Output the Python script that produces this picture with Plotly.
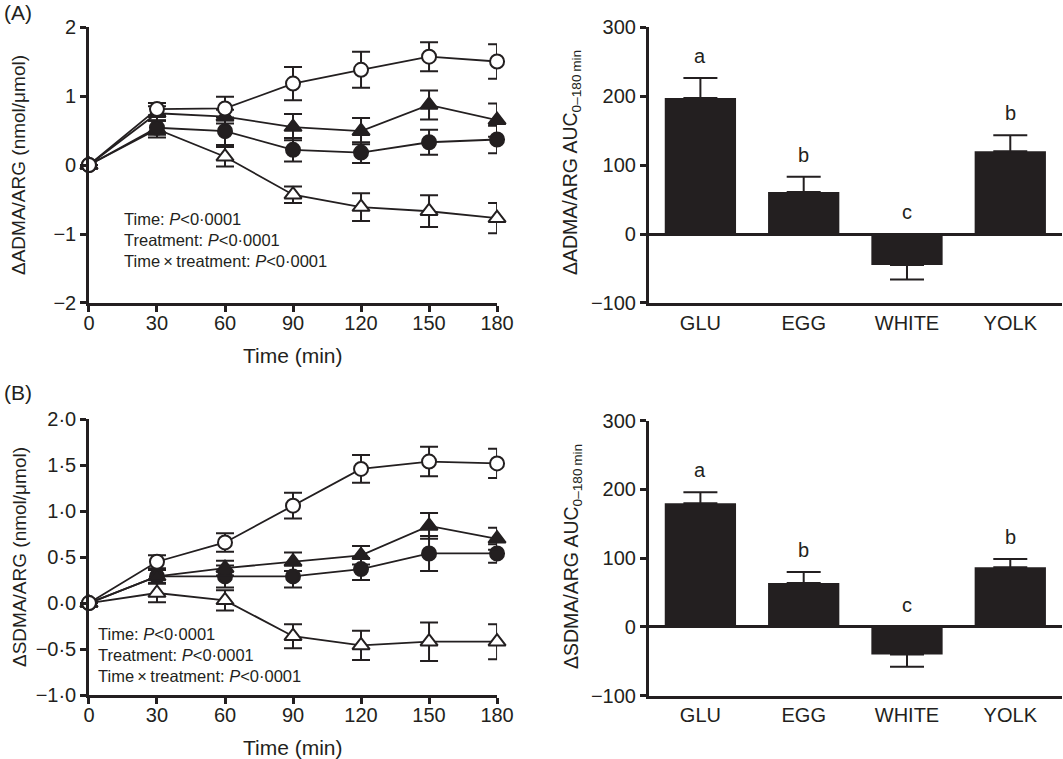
import plotly.graph_objects as go

time = [0, 30, 60, 90, 120, 150, 180]
groups = ["GLU", "EGG", "WHITE", "YOLK"]

# panel A, change in ADMA/ARG (nmol/umol)
adma_glu = [0, 0.81, 0.82, 1.18, 1.38, 1.57, 1.50]
adma_glu_err = [0, 0.09, 0.17, 0.24, 0.26, 0.21, 0.25]
adma_egg = [0, 0.54, 0.49, 0.22, 0.18, 0.33, 0.37]
adma_egg_err = [0, 0.10, 0.20, 0.17, 0.15, 0.18, 0.20]
adma_white = [0, 0.52, 0.12, -0.43, -0.61, -0.67, -0.77]
adma_white_err = [0, 0.12, 0.14, 0.12, 0.20, 0.23, 0.22]
adma_yolk = [0, 0.75, 0.70, 0.55, 0.49, 0.87, 0.65]
adma_yolk_err = [0, 0.10, 0.10, 0.19, 0.19, 0.21, 0.24]

# panel B, change in SDMA/ARG (nmol/umol)
sdma_glu = [0, 0.45, 0.66, 1.06, 1.46, 1.54, 1.52]
sdma_glu_err = [0, 0.07, 0.10, 0.14, 0.15, 0.16, 0.16]
sdma_egg = [0, 0.29, 0.29, 0.29, 0.37, 0.54, 0.54]
sdma_egg_err = [0, 0.07, 0.12, 0.12, 0.12, 0.19, 0.10]
sdma_white = [0, 0.11, 0.03, -0.36, -0.46, -0.42, -0.42]
sdma_white_err = [0, 0.10, 0.11, 0.13, 0.16, 0.21, 0.19]
sdma_yolk = [0, 0.29, 0.38, 0.45, 0.52, 0.84, 0.70]
sdma_yolk_err = [0, 0.07, 0.08, 0.10, 0.10, 0.14, 0.12]

# AUC 0-180 min
adma_auc = [197, 61, -45, 120]
adma_auc_err = [29, 22, 21, 23]
sdma_auc = [180, 64, -40, 87]
sdma_auc_err = [16, 16, 18, 12]
letters = ["a", "b", "c", "b"]

stats_lines = ["Time: <i>P</i>&lt;0·0001", "Treatment: <i>P</i>&lt;0·0001",
               "Time\u2009×\u2009treatment: <i>P</i>&lt;0·0001"]

FONT = "Liberation Sans, Arial, sans-serif"
INK = "#231f20"

symbols = {"GLU": ("circle", "white"), "EGG": ("circle", INK),
           "WHITE": ("triangle-up", "white"), "YOLK": ("triangle-up", INK)}

fig = go.Figure()


def add_lines(series, xa, ya):
    for name, vals, err in series:
        sym, fill = symbols[name]
        fig.add_trace(go.Scatter(
            x=time, y=vals, mode="lines+markers", name=name, xaxis=xa, yaxis=ya,
            line=dict(color=INK, width=1.8),
            marker=dict(symbol=sym, size=14 if sym == "circle" else 15,
                        color=fill, line=dict(color=INK, width=2)),
            error_y=dict(type="data", array=err, color=INK, thickness=2, width=9),
            cliponaxis=False, showlegend=False))


def add_bars(vals, err, xa, ya):
    plus = [e if v >= 0 else 0 for v, e in zip(vals, err)]
    minus = [e if v < 0 else 0 for v, e in zip(vals, err)]
    fig.add_trace(go.Bar(
        x=groups, y=vals, xaxis=xa, yaxis=ya, width=0.69,
        marker=dict(color=INK, line=dict(width=0)),
        error_y=dict(type="data", array=plus, arrayminus=minus, symmetric=False,
                     color=INK, thickness=2, width=17),
        showlegend=False))
    for g, v, e, l in zip(groups, vals, err, letters):
        fig.add_annotation(x=g, y=max(v + e, 0) + 32, xref=xa, yref=ya, text=l,
                           showarrow=False, font=dict(size=20, color=INK, family=FONT))


add_lines([("WHITE", adma_white, adma_white_err), ("EGG", adma_egg, adma_egg_err),
           ("YOLK", adma_yolk, adma_yolk_err), ("GLU", adma_glu, adma_glu_err)], "x", "y")
add_bars(adma_auc, adma_auc_err, "x2", "y2")
add_lines([("WHITE", sdma_white, sdma_white_err), ("EGG", sdma_egg, sdma_egg_err),
           ("YOLK", sdma_yolk, sdma_yolk_err), ("GLU", sdma_glu, sdma_glu_err)], "x3", "y3")
add_bars(sdma_auc, sdma_auc_err, "x4", "y4")

tickfont = dict(size=20, color=INK, family=FONT)
axis_common = dict(showline=True, linecolor=INK, linewidth=2.5, ticks="outside",
                   tickwidth=2.5, ticklen=6, tickcolor=INK, showgrid=False,
                   zeroline=False, tickfont=tickfont, automargin=False)

line_x = dict(axis_common, range=[0, 180], tickvals=time, ticklabelstandoff=-6)
bar_x = dict(axis_common, ticks="", type="category", range=[-0.5, 3.5])
bar_y = dict(axis_common, range=[-100, 300], tickvals=[-100, 0, 100, 200, 300],
             ticktext=["−100", "0", "100", "200", "300"],
             zeroline=True, zerolinecolor=INK, zerolinewidth=2.5)

fig.update_layout(
    width=1063, height=759, margin=dict(l=0, r=0, t=0, b=0, autoexpand=False),
    paper_bgcolor="white", plot_bgcolor="white",
    font=dict(family=FONT, color=INK),
    xaxis=dict(line_x, domain=[0.0837, 0.4676], anchor="y"),
    yaxis=dict(axis_common, domain=[0.6008, 0.9644], anchor="x", range=[-2, 2],
               tickvals=[-2, -1, 0, 1, 2], ticktext=["−2", "−1", "0", "1", "2"]),
    xaxis2=dict(bar_x, domain=[0.6103, 0.999], anchor="y2"),
    yaxis2=dict(bar_y, domain=[0.6008, 0.9644], anchor="x2"),
    xaxis3=dict(line_x, domain=[0.0837, 0.4676], anchor="y3"),
    yaxis3=dict(axis_common, domain=[0.0843, 0.4476], anchor="x3", range=[-1, 2],
                tickvals=[-1, -0.5, 0, 0.5, 1, 1.5, 2],
                ticktext=["−1·0", "−0·5", "0·0", "0·5", "1·0", "1·5", "2·0"]),
    xaxis4=dict(bar_x, domain=[0.6103, 0.999], anchor="y4"),
    yaxis4=dict(bar_y, domain=[0.0834, 0.4457], anchor="x4"),
)


def paper_text(x, y, text, size=21, angle=0, xanchor="center"):
    fig.add_annotation(x=x / 1063, y=1 - y / 759, xref="paper", yref="paper", text=text,
                       showarrow=False, textangle=angle, xanchor=xanchor, yanchor="middle",
                       font=dict(size=size, color=INK, family=FONT))


paper_text(2, 12, "(A)", xanchor="left")
paper_text(2, 392, "(B)", xanchor="left")
paper_text(293, 355, "Time (min)")
paper_text(293, 747, "Time (min)")
paper_text(19, 165, "ΔADMA/ARG (nmol/μmol)", size=19, angle=-90)
paper_text(19, 557, "ΔSDMA/ARG (nmol/μmol)", size=19, angle=-90)
paper_text(572, 163, "ΔADMA/ARG AUC<sub>0–180\u2009min</sub>", size=19.5, angle=-90)
paper_text(572, 557, "ΔSDMA/ARG AUC<sub>0–180\u2009min</sub>", size=19.5, angle=-90)

for i, s in enumerate(stats_lines):
    paper_text(122, 219 + 21 * i, s, size=16.5, xanchor="left")
    paper_text(96, 634 + 21 * i, s, size=16.5, xanchor="left")

# page has a default 8px body margin, drop it so the figure sits at the corner
fig.write_html("out.html", config={"displayModeBar": False},
               post_script="document.body.style.margin='0';")
